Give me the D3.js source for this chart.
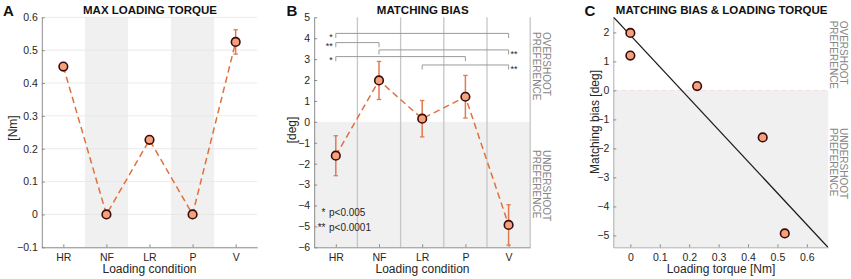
<!DOCTYPE html>
<html><head><meta charset="utf-8">
<script src="https://cdn.jsdelivr.net/npm/d3@7"></script>
<style>
body{margin:0;background:#fff;}
svg{display:block;font-family:"Liberation Sans",Arial,Helvetica,sans-serif;}
</style></head>
<body><svg id="c" width="851" height="279"></svg>
<script>
// ---------- data ----------
const categories = ["HR", "NF", "LR", "P", "V"];
const torqueMean = [0.45, 0.0, 0.227, 0.0, 0.525];
const torqueErr  = [0.0, 0.0, 0.0, 0.0, 0.037];
const biasMean   = [-1.62, 1.98, 0.15, 1.20, -4.93];
const biasErr    = [0.955, 0.91, 0.87, 1.02, 0.965];
const torqueTicks = [-0.1, 0, 0.1, 0.2, 0.3, 0.4, 0.5, 0.6];
const biasTicks   = [-6, -5, -4, -3, -2, -1, 0, 1, 2, 3, 4, 5];
const scatterXTicks = [0, 0.1, 0.2, 0.3, 0.4, 0.5, 0.6];
const scatterYTicks = [-5, -4, -3, -2, -1, 0, 1, 2];
const shadedA = ["NF", "P"];
// significance brackets: [from, to, level (deg), label, side]
const brackets = [
  ["HR", "V", 4.23, "*", "left"],
  ["HR", "NF", 3.79, "**", "left"],
  ["NF", "V", 3.44, "**", "right"],
  ["HR", "P", 3.12, "*", "left"],
  ["LR", "V", 2.72, "**", "right"]
];
const legendLines = [["*", "p<0.005"], ["**", "p<0.0001"]];
const fitLine = [1.90, -10.88]; // intercept, slope

// ---------- style ----------
const axisCol = "#8c8c8c", textCol = "#262626", shade = "#f0f0f0";
const lineCol = "#e0703c", errCol = "#e07a52", mFill = "#f5a17c", mStroke = "#3a0b0b";
const svg = d3.select("#c");
const yTop = 17.3, yBot = 247.3;

function yAxis(g, y, ticks, fmt) {
  g.call(d3.axisLeft(y).tickValues(ticks).tickSizeInner(-3).tickSizeOuter(0).tickPadding(4).tickFormat(fmt));
  g.select(".domain").attr("stroke", axisCol);
  g.selectAll(".tick line").attr("stroke", axisCol);
  g.selectAll("text").attr("fill", textCol).style("font-size", "10.5px").style("font-family", "inherit");
}
function xAxis(g, x, ticks, fmt) {
  g.call(d3.axisBottom(x).tickValues(ticks).tickSizeInner(-3).tickSizeOuter(0).tickPadding(6).tickFormat(fmt));
  g.select(".domain").attr("stroke", axisCol);
  g.selectAll(".tick line").attr("stroke", axisCol);
  g.selectAll("text").attr("fill", textCol).style("font-size", "10.5px").style("font-family", "inherit");
}
function title(x, t) {
  svg.append("text").attr("x", x).attr("y", 13.5).attr("text-anchor", "middle")
    .style("font-size", "11.5px").style("font-weight", "bold").attr("fill", "#111").text(t);
}
function letter(x, t) {
  svg.append("text").attr("x", x).attr("y", 15.5).style("font-size", "15px")
    .style("font-weight", "bold").attr("fill", "#111").text(t);
}
function xlabel(x, t) {
  svg.append("text").attr("x", x).attr("y", 272.5).attr("text-anchor", "middle")
    .style("font-size", "12px").attr("fill", textCol).text(t);
}
function ylabel(x, y, t) {
  svg.append("text").attr("transform", `translate(${x},${y}) rotate(-90)`).attr("dy", "0.35em")
    .attr("text-anchor", "middle").style("font-size", "12px").attr("fill", textCol).text(t);
}
function sideLabel(x, y, lines) {
  lines.forEach((t, i) => {
    svg.append("text").attr("transform", `translate(${x - i * 10},${y}) rotate(90)`).attr("dy", "0.35em")
      .style("font-size", "10px").attr("fill", "#858585").text(t);
  });
}
function markers(g, pts) {
  g.selectAll("circle.m").data(pts).join("circle").attr("class", "m")
    .attr("cx", d => d[0]).attr("cy", d => d[1]).attr("r", 4.3)
    .attr("fill", mFill).attr("stroke", mStroke).attr("stroke-width", 1.6);
}
function errorBars(g, x, y, mean, err) {
  mean.forEach((m, i) => {
    if (!err[i]) return;
    const cx = x(i + 1), y0 = y(m - err[i]), y1 = y(m + err[i]);
    g.append("line").attr("x1", cx).attr("x2", cx).attr("y1", y0).attr("y2", y1).attr("stroke", errCol).attr("stroke-width", 1.5);
    [y0, y1].forEach(yy => g.append("line").attr("x1", cx - 2.2).attr("x2", cx + 2.2).attr("y1", yy).attr("y2", yy).attr("stroke", errCol).attr("stroke-width", 1.3));
  });
}
function dashedLine(g, x, y, mean) {
  g.append("path").datum(mean).attr("fill", "none").attr("stroke", lineCol).attr("stroke-width", 1.5)
    .attr("stroke-dasharray", "6.5,4")
    .attr("d", d3.line().x((d, i) => x(i + 1)).y(d => y(d)));
}

// ---------- Panel A ----------
{
  const x = d3.scaleLinear().domain([0.5, 5.5]).range([41.8, 257.2]);
  const y = d3.scaleLinear().domain([-0.1, 0.6]).range([yBot, yTop]);
  const g = svg.append("g");
  shadedA.forEach(c => {
    const i = categories.indexOf(c) + 1;
    g.append("rect").attr("x", x(i - 0.5)).attr("width", x(i + 0.5) - x(i - 0.5))
      .attr("y", yTop).attr("height", yBot - yTop).attr("fill", shade);
  });
  torqueTicks.forEach(t => g.append("line").attr("x1", x.range()[0]).attr("x2", x.range()[1])
    .attr("y1", y(t)).attr("y2", y(t)).attr("stroke", "#e6e6e6").attr("stroke-width", 0.8));
  g.append("g").attr("transform", `translate(${x.range()[0]},0)`).call(yAxis, y, torqueTicks, d => d === 0 ? "0" : d3.format(".1f")(d));
  g.append("g").attr("transform", `translate(0,${yBot})`).call(xAxis, x, [1, 2, 3, 4, 5], d => categories[d - 1]);
  dashedLine(g, x, y, torqueMean);
  errorBars(g, x, y, torqueMean, torqueErr);
  markers(g, torqueMean.map((v, i) => [x(i + 1), y(v)]));
  title(150, "MAX LOADING TORQUE");
  letter(3, "A");
  xlabel(149.5, "Loading condition");
  ylabel(12.5, 128, "[Nm]");
}

// ---------- Panel B ----------
{
  const x = d3.scaleLinear().domain([0.5, 5.5]).range([314.2, 530.2]);
  const y = d3.scaleLinear().domain([-6, 5]).range([yBot, yTop]);
  const g = svg.append("g");
  g.append("rect").attr("x", x(0.5)).attr("width", x(5.5) - x(0.5)).attr("y", y(0))
    .attr("height", y(-6) - y(0)).attr("fill", shade);
  [1.5, 2.5, 3.5, 4.5, 5.5].forEach(v => g.append("line").attr("x1", x(v)).attr("x2", x(v))
    .attr("y1", yTop).attr("y2", yBot).attr("stroke", "#c6c6c6").attr("stroke-width", 1.3));
  g.append("g").attr("transform", `translate(${x(0.5)},0)`).call(yAxis, y, biasTicks, d3.format("d"));
  g.append("g").attr("transform", `translate(0,${yBot})`).call(xAxis, x, [1, 2, 3, 4, 5], d => categories[d - 1]);
  brackets.forEach(([a, b, lvl, lab, side]) => {
    const x0 = x(categories.indexOf(a) + 1), x1 = x(categories.indexOf(b) + 1), yy = y(lvl), yd = y(lvl - 0.22);
    g.append("path").attr("fill", "none").attr("stroke", "#9a9a9a").attr("stroke-width", 1)
      .attr("d", `M${x0},${yd}V${yy}H${x1}V${yd}`);
    g.append("text").attr("x", side === "left" ? x0 - 3 : x1 + 2).attr("y", yy + 6.8)
      .attr("text-anchor", side === "left" ? "end" : "start")
      .style("font-size", "9px").attr("fill", textCol).text(lab);
  });
  legendLines.forEach(([s, t], i) => {
    g.append("text").attr("x", 325.5).attr("y", 215.5 + i * 15).attr("text-anchor", "end")
      .style("font-size", "10px").attr("fill", textCol).text(s);
    g.append("text").attr("x", 329).attr("y", 215.5 + i * 15)
      .style("font-size", "10px").attr("fill", textCol).text(t);
  });
  dashedLine(g, x, y, biasMean);
  errorBars(g, x, y, biasMean, biasErr);
  markers(g, biasMean.map((v, i) => [x(i + 1), y(v)]));
  title(422.7, "MATCHING BIAS");
  letter(286.5, "B");
  xlabel(422.5, "Loading condition");
  ylabel(291.5, 130, "[deg]");
  sideLabel(546.7, 32, ["OVERSHOOT", "PREFERENCE"]);
  sideLabel(546.7, 150, ["UNDERSHOOT", "PREFERENCE"]);
}

// ---------- Panel C ----------
{
  const x = d3.scaleLinear().domain([-0.058, 0.673]).range([613.3, 828.3]);
  const y = d3.scaleLinear().domain([-5.41, 2.52]).range([yBot, yTop]);
  const g = svg.append("g");
  g.append("rect").attr("x", x.range()[0]).attr("width", x.range()[1] - x.range()[0]).attr("y", y(0))
    .attr("height", yBot - y(0)).attr("fill", shade);
  g.append("line").attr("x1", x.range()[0]).attr("x2", x.range()[1]).attr("y1", y(0)).attr("y2", y(0))
    .attr("stroke", "#f3dcdc").attr("stroke-width", 1).attr("stroke-dasharray", "5,3");
  g.append("g").attr("transform", `translate(${x.range()[0]},0)`).call(yAxis, y, scatterYTicks, d3.format("d"));
  g.append("g").attr("transform", `translate(0,${yBot})`).call(xAxis, x, scatterXTicks, d => d === 0 ? "0" : d3.format(".1f")(d));
  g.selectAll(".domain").attr("stroke", "#b0b0b0");
  const [b0, b1] = fitLine;
  const xd = x.domain();
  svg.append("clipPath").attr("id", "clipC").append("rect").attr("x", x.range()[0]).attr("y", yTop)
    .attr("width", x.range()[1] - x.range()[0]).attr("height", yBot - yTop);
  g.append("line").attr("clip-path", "url(#clipC)")
    .attr("x1", x(xd[0])).attr("y1", y(b0 + b1 * xd[0])).attr("x2", x(xd[1])).attr("y2", y(b0 + b1 * xd[1]))
    .attr("stroke", "#1a1a1a").attr("stroke-width", 1.3);
  markers(g, biasMean.map((v, i) => [x(torqueMean[i]), y(v)]));
  title(721.7, "MATCHING BIAS & LOADING TORQUE");
  letter(584.5, "C");
  xlabel(721, "Loading torque [Nm]");
  ylabel(594.5, 122, "Matching bias [deg]");
  sideLabel(843.3, 20.7, ["OVERSHOOT", "PREFERENCE"]);
  sideLabel(843.3, 128, ["UNDERSHOOT", "PREFERENCE"]);
}
</script></body></html>
